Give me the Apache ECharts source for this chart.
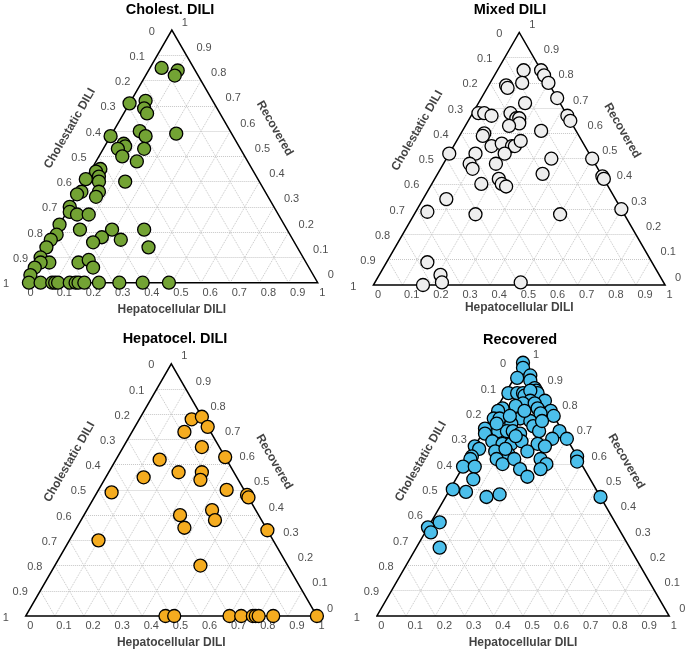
<!DOCTYPE html>
<html><head><meta charset="utf-8">
<script src="https://cdn.jsdelivr.net/npm/echarts/dist/echarts.min.js"></script>
<style>html,body{margin:0;padding:0;background:#fff}#c{width:685px;height:651px}</style>
</head><body><div id="c"></div>
<script>
// ---------- data ----------
const panelTitles = ['Cholest. DILI', 'Mixed DILI', 'Hepatocel. DILI', 'Recovered'];
const axisNames = ['Hepatocellular DILI', 'Cholestatic DILI', 'Recovered'];
const tickValues = [0, 0.1, 0.2, 0.3, 0.4, 0.5, 0.6, 0.7, 0.8, 0.9, 1];
const tickLabels = ['0', '0.1', '0.2', '0.3', '0.4', '0.5', '0.6', '0.7', '0.8', '0.9', '1'];
const pointColors = ['#73a334', '#eeeeee', '#f5ac1f', '#4cbfeb'];

// each point: [Hepatocellular, Cholestatic, Recovered]
const cholestData = [
  [0.04,0.11,0.85],[0.10,0.06,0.84],[0.10,0.08,0.82],[0.00,0.29,0.71],[0.05,0.23,0.72],
  [0.06,0.25,0.69],[0.08,0.25,0.67],[0.22,0.19,0.59],[0.00,0.42,0.58],[0.09,0.31,0.60],
  [0.12,0.30,0.58],[0.06,0.39,0.55],[0.07,0.39,0.54],[0.05,0.42,0.53],[0.14,0.33,0.53],
  [0.08,0.42,0.50],[0.14,0.38,0.48],[0.03,0.52,0.45],[0.02,0.54,0.44],[0.04,0.54,0.42],
  [0.05,0.55,0.40],[0.14,0.46,0.40],[0.00,0.59,0.41],[0.01,0.63,0.36],[0.00,0.65,0.35],
  [0.07,0.57,0.36],[0.07,0.59,0.34],[0.00,0.70,0.30],[0.01,0.71,0.28],[0.04,0.69,0.27],
  [0.08,0.65,0.27],[0.00,0.77,0.23],[0.08,0.71,0.21],[0.19,0.60,0.21],[0.17,0.65,0.18],
  [0.15,0.69,0.16],[0.24,0.59,0.17],[0.30,0.49,0.21],[0.35,0.51,0.14],[0.01,0.80,0.19],
  [0.00,0.83,0.17],[0.00,0.86,0.14],[0.00,0.90,0.10],[0.04,0.88,0.08],[0.01,0.91,0.08],
  [0.00,0.94,0.06],[0.00,0.97,0.03],[0.14,0.78,0.08],[0.17,0.74,0.09],[0.20,0.74,0.06],
  [0.01,0.99,0],[0.05,0.95,0],[0.09,0.91,0],[0.10,0.90,0],[0.11,0.89,0],[0.15,0.85,0],
  [0.17,0.83,0],[0.18,0.82,0],[0.20,0.80,0],[0.25,0.75,0],[0.32,0.68,0],[0.40,0.60,0],[0.49,0.51,0]
];
const mixedData = [
  [0.09,0.06,0.85],[0.15,0.00,0.85],[0.17,0.00,0.83],[0.11,0.09,0.80],[0.06,0.15,0.79],
  [0.07,0.15,0.78],[0.20,0.00,0.80],[0.26,0.00,0.74],[0.16,0.12,0.72],[0.02,0.30,0.68],
  [0.04,0.28,0.68],[0.07,0.26,0.67],[0.13,0.19,0.68],[0.16,0.18,0.66],[0.17,0.17,0.66],
  [0.18,0.18,0.64],[0.15,0.22,0.63],[0.33,0.00,0.67],[0.35,0.00,0.65],[0.27,0.12,0.61],
  [0.08,0.32,0.60],[0.08,0.33,0.59],[0.13,0.32,0.55],[0.16,0.28,0.56],[0.20,0.25,0.55],
  [0.21,0.24,0.55],[0.22,0.21,0.57],[0.19,0.29,0.52],[0.00,0.48,0.52],[0.09,0.39,0.52],
  [0.09,0.43,0.48],[0.11,0.43,0.46],[0.18,0.34,0.48],[0.50,0.00,0.50],[0.36,0.14,0.50],
  [0.36,0.20,0.44],[0.57,0.00,0.43],[0.58,0.00,0.42],[0.22,0.36,0.42],[0.24,0.36,0.40],
  [0.26,0.35,0.39],[0.17,0.43,0.40],[0.08,0.58,0.34],[0.04,0.67,0.29],[0.21,0.51,0.28],
  [0.50,0.22,0.28],[0.70,0.00,0.30],[0.14,0.77,0.09],[0.21,0.75,0.04],[0.23,0.76,0.01],
  [0.17,0.83,0.00],[0.50,0.49,0.01]
];
const hepatoData = [
  [0.18,0.04,0.78],[0.21,0.00,0.79],[0.25,0.00,0.75],[0.18,0.09,0.73],[0.27,0.06,0.67],
  [0.37,0.00,0.63],[0.15,0.23,0.62],[0.13,0.32,0.55],[0.24,0.19,0.57],[0.32,0.11,0.57],
  [0.33,0.13,0.54],[0.44,0.06,0.50],[0.52,0.00,0.48],[0.53,0.00,0.47],[0.05,0.46,0.49],
  [0.33,0.27,0.40],[0.37,0.28,0.35],[0.43,0.15,0.42],[0.46,0.16,0.38],[0.66,0.00,0.34],
  [0.10,0.60,0.30],[0.50,0.30,0.20],
  [0.48,0.52,0],[0.51,0.49,0],[0.70,0.30,0],[0.74,0.26,0],[0.78,0.22,0],[0.79,0.21,0],
  [0.80,0.20,0],[0.85,0.15,0],[1.00,0,0]
];
const recoveredData = [
  [0.00,0.00,1.00],[0.01,0.01,0.98],[0.05,0.00,0.95],[0.01,0.05,0.94],[0.06,0.01,0.93],
  [0.09,0.01,0.90],[0.01,0.11,0.88],[0.04,0.08,0.88],[0.06,0.06,0.88],[0.07,0.06,0.87],
  [0.10,0.01,0.89],[0.11,0.01,0.88],[0.08,0.03,0.89],[0.15,0.00,0.85],[0.10,0.05,0.85],
  [0.08,0.08,0.84],[0.06,0.11,0.83],[0.12,0.04,0.84],[0.02,0.16,0.82],[0.01,0.18,0.81],
  [0.14,0.04,0.82],[0.19,0.00,0.81],[0.16,0.04,0.80],[0.21,0.00,0.79],[0.01,0.21,0.78],
  [0.03,0.19,0.78],[0.10,0.12,0.78],[0.08,0.16,0.76],[0.14,0.09,0.77],[0.16,0.09,0.75],
  [0.00,0.26,0.74],[0.01,0.27,0.72],[0.05,0.22,0.73],[0.08,0.19,0.73],[0.10,0.17,0.73],
  [0.13,0.15,0.72],[0.19,0.08,0.73],[0.26,0.01,0.73],[0.30,0.00,0.70],[0.25,0.05,0.70],
  [0.05,0.26,0.69],[0.09,0.23,0.68],[0.12,0.20,0.68],[0.15,0.16,0.69],[0.21,0.11,0.68],
  [0.24,0.09,0.67],[0.00,0.33,0.67],[0.02,0.32,0.66],[0.08,0.27,0.65],[0.13,0.23,0.64],
  [0.19,0.16,0.65],[0.01,0.36,0.63],[0.01,0.37,0.62],[0.10,0.28,0.62],[0.13,0.27,0.60],
  [0.16,0.22,0.62],[0.25,0.13,0.62],[0.28,0.12,0.60],[0.20,0.22,0.58],[0.27,0.15,0.58],
  [0.24,0.21,0.55],[0.37,0.00,0.63],[0.38,0.01,0.61],[0.00,0.41,0.59],[0.04,0.37,0.59],
  [0.06,0.40,0.54],[0.01,0.49,0.50],[0.06,0.45,0.49],[0.14,0.39,0.47],[0.18,0.34,0.48],
  [0.53,0.00,0.47],[0.00,0.65,0.35],[0.02,0.65,0.33],[0.03,0.60,0.37],[0.08,0.65,0.27],
  [0.03,0.21,0.76],[0.06,0.15,0.79],[0.10,0.09,0.81],[0.18,0.05,0.77],[0.12,0.17,0.71],
  [0.11,0.23,0.66]
];
const datasets = [cholestData, mixedData, hepatoData, recoveredData];

// ---------- layout ----------
const layout = [
  { left: 26,    bottom: 282.7, size: 291.7, tx: 170, ty: 10,  hDy: 27 },
  { left: 373.4, bottom: 285,   size: 291.7, tx: 510, ty: 10,  hDy: 23 },
  { left: 25.7,  bottom: 616,   size: 291.2, tx: 175, ty: 339, hDy: 27 },
  { left: 376.8, bottom: 616,   size: 292.4, tx: 520, ty: 340, hDy: 27 }
];
const S = Math.sqrt(3) / 2;
const FONT = 'Liberation Sans, Arial, sans-serif';

function P(t) { const s = t[0] + t[1] + t[2]; const h = t[0] / s, r = t[2] / s; return [h + r / 2, r * S]; }
function hcr(h, c, r) { return P([h, c, r]); }

const grids = [], xAxes = [], yAxes = [], series = [], graphics = [];
layout.forEach((L, i) => {
  const hgt = L.size * S;
  grids.push({ left: L.left, top: L.bottom - hgt, width: L.size, height: hgt, containLabel: false });
  xAxes.push({ gridIndex: i, type: 'value', min: 0, max: 1, show: false });
  yAxes.push({ gridIndex: i, type: 'value', min: 0, max: S, show: false });
  const ax = { xAxisIndex: i, yAxisIndex: i };
  const px = (dx, dy) => [dx / L.size, -dy / L.size];
  const add = (a, b) => [a[0] + b[0], a[1] + b[1]];

  // grid lines
  const gl = [];
  tickValues.slice(1, -1).forEach(k => {
    gl.push({ coords: [hcr(0, 1 - k, k), hcr(1 - k, 0, k)] });
    gl.push({ coords: [hcr(k, 1 - k, 0), hcr(k, 0, 1 - k)] });
    gl.push({ coords: [hcr(1 - k, k, 0), hcr(0, k, 1 - k)] });
  });
  series.push({ type: 'lines', coordinateSystem: 'cartesian2d', ...ax, silent: true, clip: false, z: 1,
    lineStyle: { color: '#c6c6c6', width: 1, type: 'dotted', opacity: 1 }, data: gl });

  // triangle edges
  series.push({ type: 'line', ...ax, silent: true, clip: false, z: 2, symbol: 'none',
    lineStyle: { color: '#000', width: 1.5, join: 'miter' },
    data: [hcr(0, 1, 0), hcr(1, 0, 0), hcr(0, 0, 1), hcr(0, 1, 0), hcr(1, 0, 0)] });

  // tick labels
  const ticks = [];
  tickValues.forEach((v, j) => {
    const lab = tickLabels[j];
    ticks.push({ value: hcr(v, 1 - v, 0), name: lab, label: { align: 'left', offset: [1.5, 10] } });
    ticks.push({ value: hcr(0, v, 1 - v), name: lab, label: { align: 'center', offset: [-20, 1.5] } });
    ticks.push({ value: hcr(1 - v, 0, v), name: lab, label: { align: 'left', offset: [10, -7.5] } });
  });
  series.push({ type: 'scatter', ...ax, silent: true, clip: false, z: 3, symbolSize: 1,
    itemStyle: { color: 'rgba(0,0,0,0)' },
    label: { show: true, position: 'inside', formatter: '{b}', verticalAlign: 'middle',
      fontSize: 11, color: '#222', fontFamily: FONT },
    data: ticks });

  // axis titles
  series.push({ type: 'scatter', ...ax, silent: true, clip: false, z: 3, symbolSize: 1,
    itemStyle: { color: 'rgba(0,0,0,0)' },
    label: { show: true, position: 'inside', formatter: '{b}', align: 'center', verticalAlign: 'middle',
      fontSize: 12, fontWeight: 'bold', color: '#111', fontFamily: FONT },
    data: [
      { value: add(hcr(0.5, 0.5, 0), px(0, L.hDy)), name: axisNames[0], label: { rotate: 0 } },
      { value: add(hcr(0, 0.5, 0.5), px(-29, -28)), name: axisNames[1], label: { rotate: 60 } },
      { value: add(hcr(0.5, 0, 0.5), px(30, -28)), name: axisNames[2], label: { rotate: -60 } }
    ] });

  // data points
  series.push({ type: 'scatter', ...ax, clip: false, z: 5, symbol: 'circle', symbolSize: 13,
    itemStyle: { color: pointColors[i], borderColor: '#000', borderWidth: 1.3, opacity: 1 },
    data: datasets[i].map(P) });

  graphics.push({ type: 'text', x: L.tx, y: L.ty, silent: true,
    style: { text: panelTitles[i], fill: '#000', font: 'bold 14.5px ' + FONT, align: 'center', verticalAlign: 'middle' } });
});

const chart = echarts.init(document.getElementById('c'), null, { renderer: 'canvas' });
chart.setOption({
  animation: false,
  backgroundColor: '#fff',
  grid: grids, xAxis: xAxes, yAxis: yAxes,
  series: series,
  graphic: graphics
});
</script></body></html>
